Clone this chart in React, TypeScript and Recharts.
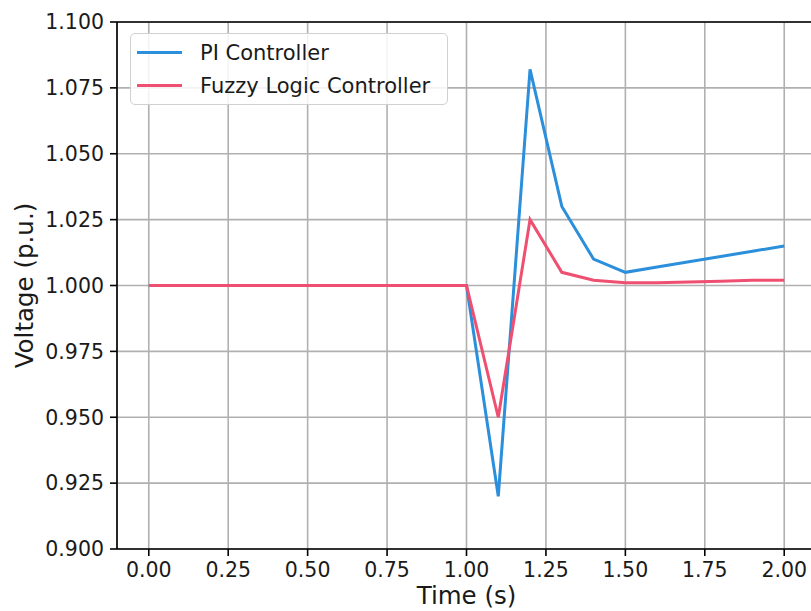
import {
	LineChart,
	Line,
	XAxis,
	YAxis,
	CartesianGrid,
	ReferenceLine,
	Label,
} from "recharts";

const time = [0, 0.1, 0.2, 0.3, 0.4, 0.5, 0.6, 0.7, 0.8, 0.9, 1.0, 1.1, 1.2, 1.3, 1.4, 1.5, 1.6, 1.7, 1.8, 1.9, 2.0];
const piVoltage = [1, 1, 1, 1, 1, 1, 1, 1, 1, 1, 1, 0.92, 1.082, 1.03, 1.01, 1.005, 1.007, 1.009, 1.011, 1.013, 1.015];
const fuzzyVoltage = [1, 1, 1, 1, 1, 1, 1, 1, 1, 1, 1, 0.95, 1.025, 1.005, 1.002, 1.001, 1.001, 1.0013, 1.0016, 1.002, 1.002];
const xTicks = [0, 0.25, 0.5, 0.75, 1.0, 1.25, 1.5, 1.75, 2.0];
const yTicks = [0.9, 0.925, 0.95, 0.975, 1.0, 1.025, 1.05, 1.075, 1.1];

const PI_COLOR = "#2b8fdb";
const FUZZY_COLOR = "#ef5071";
const FONT = "'DejaVu Sans', sans-serif";

const data = time.map((t, i) => ({
	t,
	pi: piVoltage[i],
	fuzzy: fuzzyVoltage[i],
}));

// legend drawn as an overlay so it takes no room from the plot
function LegendBox() {
	const items = [
		{ name: "PI Controller", color: PI_COLOR },
		{ name: "Fuzzy Logic Controller", color: FUZZY_COLOR },
	];
	return (
		<div
			style={{
				position: "absolute",
				left: 130,
				top: 33,
				width: 318,
				height: 72,
				boxSizing: "border-box",
				border: "1.5px solid #d0d0d0",
				borderRadius: 5,
				background: "rgba(255,255,255,0.85)",
				fontFamily: FONT,
				fontSize: 21,
				color: "#1a1a1a",
				paddingTop: 2,
			}}
		>
			{items.map((it) => (
				<div
					key={it.name}
					style={{ display: "flex", alignItems: "center", height: 33 }}
				>
					<div
						style={{
							width: 45,
							height: 3,
							background: it.color,
							marginLeft: 6,
							marginRight: 18,
						}}
					/>
					<span>{it.name}</span>
				</div>
			))}
		</div>
	);
}

export default function App() {
	return (
		<div
			style={{
				position: "absolute",
				left: 0,
				top: 0,
				width: 811,
				height: 611,
				overflow: "hidden",
				background: "#fff",
			}}
		>
			<LineChart
				width={830}
				height={611}
				data={data}
				margin={{ top: 22, right: 14, left: 0, bottom: 0 }}
				style={{ fontFamily: FONT }}
			>
				<CartesianGrid stroke="#b0b0b0" strokeWidth={1.6} />
				<XAxis
					dataKey="t"
					type="number"
					domain={[-0.1, 2.1]}
					ticks={xTicks}
					tickFormatter={(v: number) => v.toFixed(2)}
					height={62}
					tickSize={7}
					tickMargin={6}
					stroke="#000"
					strokeWidth={1.6}
					tick={{ fill: "#1a1a1a", fontSize: 20.5 }}
					interval={0}
				>
					<Label
						value="Time (s)"
						position="insideBottom"
						offset={7}
						style={{ fontSize: 24.5, fill: "#1a1a1a", textAnchor: "middle" }}
					/>
				</XAxis>
				<YAxis
					type="number"
					domain={[0.9, 1.1]}
					ticks={yTicks}
					tickFormatter={(v: number) => v.toFixed(3)}
					width={117}
					tickSize={7}
					tickMargin={6}
					stroke="#000"
					strokeWidth={1.6}
					tick={{ fill: "#1a1a1a", fontSize: 20.5 }}
					interval={0}
					allowDataOverflow
				>
					<Label
						content={({ viewBox }: any) => {
							const cy = viewBox.y + viewBox.height / 2;
							return (
								<text
									x={33}
									y={cy}
									transform={`rotate(-90, 33, ${cy})`}
									textAnchor="middle"
									fontSize={24.5}
									fill="#1a1a1a"
									fontFamily={FONT}
								>
									Voltage (p.u.)
								</text>
							);
						}}
					/>
				</YAxis>
				<ReferenceLine y={1.1} stroke="#000" strokeWidth={1.6} />
				<ReferenceLine x={2.1} stroke="#000" strokeWidth={1.6} />
				<Line
					type="linear"
					dataKey="pi"
					name="PI Controller"
					stroke={PI_COLOR}
					strokeWidth={3}
					dot={false}
					isAnimationActive={false}
				/>
				<Line
					type="linear"
					dataKey="fuzzy"
					name="Fuzzy Logic Controller"
					stroke={FUZZY_COLOR}
					strokeWidth={3}
					dot={false}
					isAnimationActive={false}
				/>
			</LineChart>
			<LegendBox />
		</div>
	);
}
